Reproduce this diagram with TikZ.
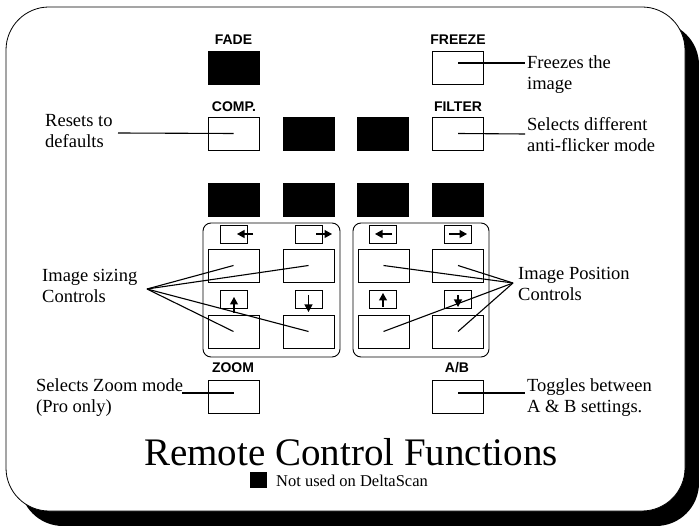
\documentclass[tikz,border=0pt]{standalone}
\usepackage{fontspec}
\setmainfont{Liberation Serif}
\newfontfamily\lsans{Liberation Sans}
\usetikzlibrary{arrows.meta}
\begin{document}
\begin{tikzpicture}[x=1pt,y=-1pt,
  btn/.style={draw=black, line width=0.8pt, fill=white, minimum width=51pt, minimum height=33pt, inner sep=0pt},
  blk/.style={btn, fill=black},
  sbtn/.style={draw=black, line width=0.8pt, fill=white, minimum width=27pt, minimum height=18pt, inner sep=0pt},
  lbl/.style={font=\lsans\bfseries\fontsize{14}{16}\selectfont, anchor=base, inner sep=0pt},
  note/.style={font=\fontsize{18.5}{21}\selectfont, anchor=base west, inner sep=0pt},
  conn/.style={line width=1.1pt},
  arr/.style={line width=1.2pt, -{Triangle[length=7.5pt,width=8pt]}},
  grp/.style={draw=black, line width=0.9pt, rounded corners=8pt},
]
\useasboundingbox (0,0) rectangle (699,526);
% frame with shadow
\fill[black, rounded corners=43pt] (20,22) rectangle (699,526);
\draw[black, fill=white, line width=0.8pt, rounded corners=43pt] (6,7) rectangle (685,511);

% top buttons
\node[lbl] (lfade) at (233.5,45) {FADE};
\node[blk] (fade) at (233.5,68) {};
\node[lbl] (lfreeze) at (458,45) {FREEZE};
\node[btn] (freeze) at (458,68) {};
\node[lbl] (lcomp) at (234,112) {COMP.};
\node[btn] (comp) at (233.5,133.5) {};
\node[blk] (k1) at (309,133.5) {};
\node[blk] (k2) at (383,133.5) {};
\node[lbl] (lfilter) at (458,112) {FILTER};
\node[btn] (filter) at (458,133.5) {};

% black row
\node[blk] (r1) at (233.5,200) {};
\node[blk] (r2) at (309,200) {};
\node[blk] (r3) at (383,200) {};
\node[blk] (r4) at (458,200) {};

% groups
\draw[grp] (203,223) rectangle (340,357);
\draw[grp] (353,223) rectangle (489,357);

% left group
\node[sbtn] (sl1) at (233.5,234) {};
\node[sbtn] (sl2) at (308.5,234) {};
\node[btn] (bl1) at (233.5,265.5) {};
\node[btn] (bl2) at (308.5,265.5) {};
\node[sbtn] (sl3) at (234,299.5) {};
\node[sbtn] (sl4) at (308.5,299.5) {};
\node[btn] (bl3) at (233.5,331.5) {};
\node[btn] (bl4) at (308.5,331.5) {};
\draw[arr] (253,234) -- (237,234);
\draw[arr] (316,234) -- (332,234);
\draw[arr] (234,313) -- (234,297);
\draw[arr] (308.5,295) -- (308.5,312);

% right group
\node[sbtn] (sr1) at (383,234) {};
\node[sbtn] (sr2) at (458,234) {};
\node[btn] (br1) at (383.5,265.5) {};
\node[btn] (br2) at (458,265.5) {};
\node[sbtn] (sr3) at (383,299.5) {};
\node[sbtn] (sr4) at (458,299.5) {};
\node[btn] (br3) at (383.5,331.5) {};
\node[btn] (br4) at (458,331.5) {};
\draw[arr] (392,234) -- (375,234);
\draw[arr] (449,234) -- (467,234);
\draw[arr] (383,307) -- (383,293);
\draw[arr] (458,295) -- (458,307);

% bottom buttons
\node[lbl] (lzoom) at (233,373) {ZOOM};
\node[btn] (zoom) at (233.5,397) {};
\node[lbl] (lab) at (457,373) {A/B};
\node[btn] (ab) at (458,397) {};

% annotations
\node[note] (t1a) at (45,127) {Resets to};
\node[note] (t1b) at (45,148) {defaults};
\node[note] (t2a) at (527,69) {Freezes the};
\node[note] (t2b) at (527,90) {image};
\node[note] (t3a) at (527,131) {Selects different};
\node[note] (t3b) at (527,152) {anti-flicker mode};
\node[note] (t4a) at (42,282) {Image sizing};
\node[note] (t4b) at (42,303) {Controls};
\node[note] (t5a) at (518,280) {Image Position};
\node[note] (t5b) at (518,301) {Controls};
\node[note] (t6a) at (36,392) {Selects Zoom mode};
\node[note] (t6b) at (36,413) {(Pro only)};
\node[note] (t7a) at (527,392) {Toggles between};
\node[note] (t7b) at (527,413) {A \& B settings.};

% connectors
\coordinate (cRes) at (118,133);
\coordinate (cFrz) at (525,63);
\coordinate (cFil) at (525,134);
\coordinate (cZm) at (182,393);
\coordinate (cAB) at (525,393);
\coordinate (cSz) at (147,289);
\coordinate (cPs) at (513,283);
\draw[conn] (cRes) -- (comp.center);
\draw[conn] (freeze.center |- cFrz) -- (cFrz);
\draw[conn] (filter.center) -- (cFil);
\draw[conn] (cZm) -- (zoom.center |- cZm);
\draw[conn] (ab.center |- cAB) -- (cAB);
\foreach \b in {bl1,bl2,bl3,bl4} \draw[conn] (cSz) -- (\b.center);
\foreach \b in {br1,br2,br3,br4} \draw[conn] (cPs) -- (\b.center);

% title and legend
\node[font=\fontsize{39}{45}\selectfont, anchor=base, inner sep=0pt] (title) at (351,465) {Remote Control Functions};
\node[blk, minimum width=16pt, minimum height=15pt] (leg) at (258,479.5) {};
\node[font=\fontsize{16.5}{19}\selectfont, anchor=base west, inner sep=0pt] (legt) at (276,486) {Not used on DeltaScan};
\end{tikzpicture}
\end{document}
